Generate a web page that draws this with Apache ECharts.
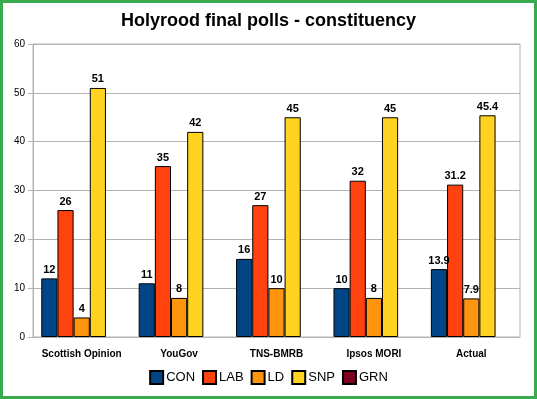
<!DOCTYPE html>
<html>
<head>
<meta charset="utf-8">
<script src="https://cdn.jsdelivr.net/npm/echarts@6/dist/echarts.min.js"></script>
<style>
  html, body { margin: 0; padding: 0; background: #fff; }
  #chart { width: 537px; height: 399px; }
</style>
</head>
<body>
<div id="chart"></div>
<script>
  // data
  const categories = ['Scottish Opinion', 'YouGov', 'TNS-BMRB', 'Ipsos MORI', 'Actual'];
  const conData = [12, 11, 16, 10, 13.9];
  const labData = [26, 35, 27, 32, 31.2];
  const ldData = [4, 8, 10, 8, 7.9];
  const snpData = [51, 42, 45, 45, 45.4];
  const grnData = [null, null, null, null, null];
  const yTicks = [0, 10, 20, 30, 40, 50, 60];

  const font = 'Liberation Sans, Arial, sans-serif';

  function bar(name, data, color) {
    return {
      name: name,
      type: 'bar',
      data: data,
      barGap: 0,
      barCategoryGap: '17%',
      itemStyle: { color: color, borderColor: '#000', borderWidth: 1 },
      label: {
        show: true,
        position: 'top',
        distance: 3,
        color: '#000',
        fontFamily: font,
        fontWeight: 'bold',
        fontSize: 11
      }
    };
  }

  let myChart = echarts.init(document.getElementById('chart'));
  myChart.setOption({
    animation: false,
    title: {
      text: 'Holyrood final polls - constituency',
      left: 'center',
      top: 7,
      textStyle: { fontFamily: font, fontSize: 18, fontWeight: 'bold', color: '#000' }
    },
    graphic: [{
      type: 'rect',
      shape: { x: 1.5, y: 1.5, width: 534, height: 396 },
      style: { fill: 'none', stroke: '#3aaa4f', lineWidth: 3 },
      silent: true
    }],
    legend: {
      bottom: 9,
      left: 'center',
      itemWidth: 13,
      itemHeight: 13,
      itemGap: 7,
      icon: 'rect',
      textStyle: { fontFamily: font, fontSize: 13, color: '#000', padding: [0, 0, 0, -2] },
      data: ['CON', 'LAB', 'LD', 'SNP', 'GRN']
    },
    grid: {
      left: 33,
      right: 17,
      top: 44,
      bottom: 62,
      show: true,
      borderColor: '#b3b3b3',
      borderWidth: 1
    },
    xAxis: {
      type: 'category',
      data: categories,
      axisLine: { lineStyle: { color: '#b3b3b3' } },
      axisTick: { length: 7, lineStyle: { color: '#b3b3b3' } },
      axisLabel: { interval: 0, color: '#000', fontFamily: font, fontSize: 10, fontWeight: 'bold', margin: 12 }
    },
    yAxis: {
      type: 'value',
      min: yTicks[0],
      max: yTicks[yTicks.length - 1],
      interval: 10,
      axisLine: { show: true, lineStyle: { color: '#b3b3b3' } },
      axisTick: { show: true, length: 5, lineStyle: { color: '#b3b3b3' } },
      splitLine: { lineStyle: { color: '#b3b3b3' } },
      axisLabel: { color: '#000', fontFamily: font, fontSize: 10, margin: 8 }
    },
    series: [
      bar('CON', conData, '#004586'),
      bar('LAB', labData, '#ff420e'),
      bar('LD', ldData, '#ff950e'),
      bar('SNP', snpData, '#ffd320'),
      bar('GRN', grnData, '#7e0021')
    ]
  });
</script>
</body>
</html>
